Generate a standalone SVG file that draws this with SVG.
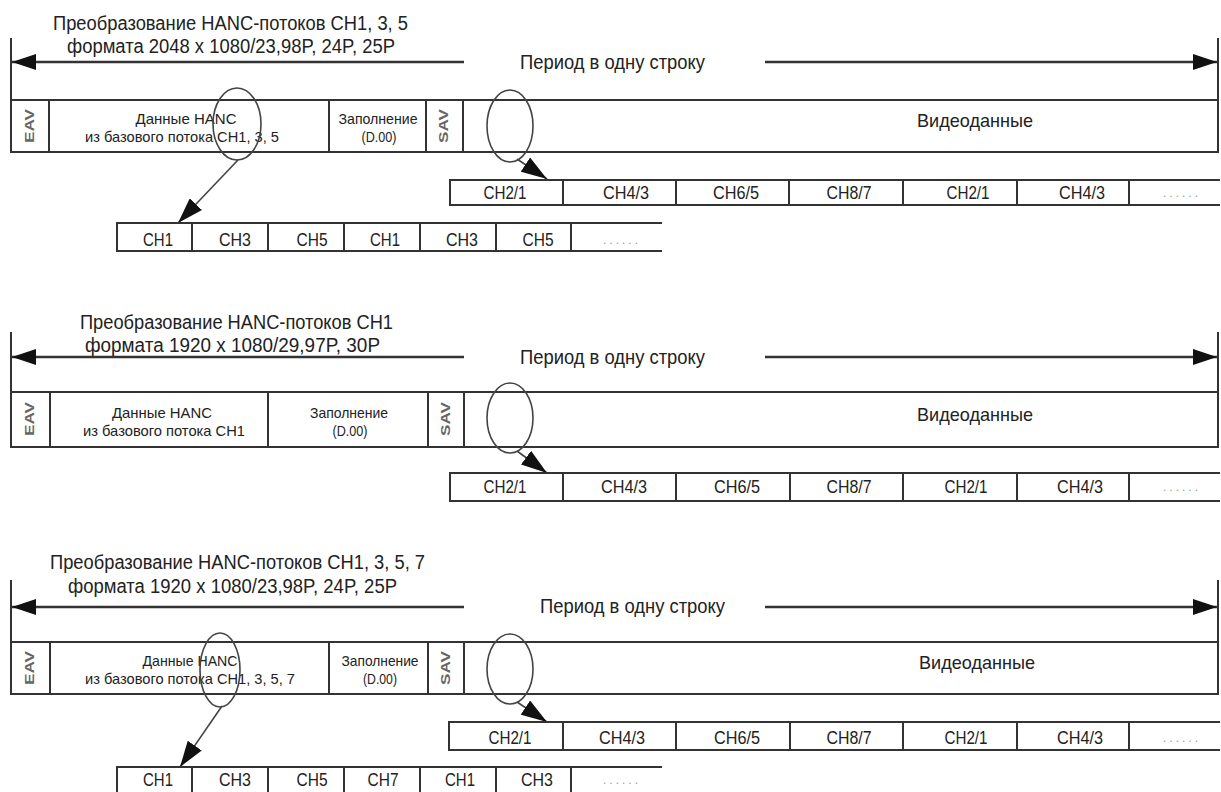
<svg xmlns="http://www.w3.org/2000/svg" width="1221" height="792" viewBox="0 0 1221 792">
<style>
text{font-family:"Liberation Sans",Arial,sans-serif;fill:#222}
.ttl{font-size:20px}
.per{font-size:20px}
.cell{font-size:15px;text-anchor:middle}
.vid{font-size:19px;text-anchor:middle}
.ch{font-size:19px;text-anchor:middle}
.rot{font-size:13px;font-weight:bold;fill:#666;text-anchor:middle}
.dots{font-size:12px;fill:#999;letter-spacing:3px}
.fr{fill:none;stroke:#333;stroke-width:2}
.ln{stroke:#333;stroke-width:2;fill:none}
.pa{stroke:#333;stroke-width:2.5;fill:none}
.el{fill:none;stroke:#444;stroke-width:1.6}
.cn{stroke:#444;stroke-width:1.6;fill:none}
</style>
<defs>
<marker id="pah" viewBox="0 0 24 16" refX="24" refY="8" markerUnits="userSpaceOnUse" markerWidth="24" markerHeight="16" orient="auto"><path d="M0,0L24,8L0,16z" fill="#111"/></marker>
<marker id="cah" viewBox="0 0 26 17" refX="26" refY="8.5" markerUnits="userSpaceOnUse" markerWidth="26" markerHeight="17" orient="auto"><path d="M0,0L26,8.5L0,17z" fill="#111"/></marker>
</defs>

<!-- ===== Section 1 ===== -->
<g id="sec1-title">
<text class="ttl" x="53" y="30" textLength="355" lengthAdjust="spacingAndGlyphs">Преобразование HANC-потоков CH1, 3, 5</text>
<text class="ttl" x="67" y="53" textLength="328" lengthAdjust="spacingAndGlyphs">формата 2048 x 1080/23,98P, 24P, 25P</text>
</g>
<g id="sec1-period">
<line class="ln" x1="11" y1="38" x2="11" y2="100"/>
<line class="ln" x1="1218" y1="38" x2="1218" y2="152"/>
<line class="pa" x1="464" y1="62" x2="12" y2="62" marker-end="url(#pah)"/>
<line class="pa" x1="765" y1="62" x2="1217" y2="62" marker-end="url(#pah)"/>
<text class="per" x="520" y="69" textLength="185" lengthAdjust="spacingAndGlyphs">Период в одну строку</text>
</g>
<g id="sec1-frame">
<rect class="fr" x="11" y="100" width="1207" height="52"/>
<line class="ln" x1="49" y1="100" x2="49" y2="152"/>
<line class="ln" x1="329" y1="100" x2="329" y2="152"/>
<line class="ln" x1="426" y1="100" x2="426" y2="152"/>
<line class="ln" x1="463" y1="100" x2="463" y2="152"/>
</g>
<g id="sec1-eav"><text class="rot" transform="translate(34,126) rotate(-90)" textLength="34" lengthAdjust="spacingAndGlyphs">EAV</text></g>
<g id="sec1-hanc">
<text class="cell" x="186" y="124" textLength="101" lengthAdjust="spacingAndGlyphs">Данные HANC</text>
<text class="cell" x="182" y="142" textLength="194" lengthAdjust="spacingAndGlyphs">из базового потока CH1, 3, 5</text>
</g>
<g id="sec1-fill">
<text class="cell" x="378" y="124" textLength="79" lengthAdjust="spacingAndGlyphs">Заполнение</text>
<text class="cell" x="379" y="142" textLength="35" lengthAdjust="spacingAndGlyphs">(D.00)</text>
</g>
<g id="sec1-sav"><text class="rot" transform="translate(448,126) rotate(-90)" textLength="34" lengthAdjust="spacingAndGlyphs">SAV</text></g>
<g id="sec1-video"><text class="vid" x="975" y="127" textLength="116" lengthAdjust="spacingAndGlyphs">Видеоданные</text></g>
<g id="sec1-ell1"><ellipse class="el" cx="237" cy="124" rx="24" ry="36"/></g>
<g id="sec1-ell2"><ellipse class="el" cx="510" cy="126" rx="23" ry="36"/></g>
<g id="sec1-row2">
<path class="ln" d="M1220,180H450V205H1220M563,180V205M676,180V205M789,180V205M903,180V205M1017,180V205M1129,180V205"/>
<text class="ch" x="505" y="199" textLength="43" lengthAdjust="spacingAndGlyphs">CH2/1</text>
<text class="ch" x="626" y="199" textLength="46" lengthAdjust="spacingAndGlyphs">CH4/3</text>
<text class="ch" x="736" y="199" textLength="46" lengthAdjust="spacingAndGlyphs">CH6/5</text>
<text class="ch" x="849" y="199" textLength="45" lengthAdjust="spacingAndGlyphs">CH8/7</text>
<text class="ch" x="968" y="199" textLength="43" lengthAdjust="spacingAndGlyphs">CH2/1</text>
<text class="ch" x="1082" y="199" textLength="46" lengthAdjust="spacingAndGlyphs">CH4/3</text>
<text class="dots" x="1163" y="197">......</text>
</g>
<g id="sec1-row1">
<path class="ln" d="M662,223H117V251H662M192,223V251M268,223V251M344,223V251M420,223V251M496,223V251M571,223V251"/>
<text class="ch" x="158" y="246" textLength="30" lengthAdjust="spacingAndGlyphs">CH1</text>
<text class="ch" x="235" y="246" textLength="32" lengthAdjust="spacingAndGlyphs">CH3</text>
<text class="ch" x="312" y="246" textLength="31" lengthAdjust="spacingAndGlyphs">CH5</text>
<text class="ch" x="385" y="246" textLength="30" lengthAdjust="spacingAndGlyphs">CH1</text>
<text class="ch" x="462" y="246" textLength="32" lengthAdjust="spacingAndGlyphs">CH3</text>
<text class="ch" x="538" y="246" textLength="31" lengthAdjust="spacingAndGlyphs">CH5</text>
<text class="dots" x="603" y="244">......</text>
</g>

<!-- ===== Section 2 ===== -->
<g id="sec2-title">
<text class="ttl" x="80" y="329" textLength="313" lengthAdjust="spacingAndGlyphs">Преобразование HANC-потоков CH1</text>
<text class="ttl" x="85" y="352" textLength="295" lengthAdjust="spacingAndGlyphs">формата 1920 x 1080/29,97P, 30P</text>
</g>
<g id="sec2-period">
<line class="ln" x1="11" y1="332" x2="11" y2="392"/>
<line class="ln" x1="1218" y1="332" x2="1218" y2="447"/>
<line class="pa" x1="464" y1="357" x2="12" y2="357" marker-end="url(#pah)"/>
<line class="pa" x1="765" y1="357" x2="1217" y2="357" marker-end="url(#pah)"/>
<text class="per" x="520" y="364" textLength="185" lengthAdjust="spacingAndGlyphs">Период в одну строку</text>
</g>
<g id="sec2-frame">
<rect class="fr" x="11" y="392" width="1207" height="55"/>
<line class="ln" x1="50" y1="392" x2="50" y2="447"/>
<line class="ln" x1="268" y1="392" x2="268" y2="447"/>
<line class="ln" x1="428" y1="392" x2="428" y2="447"/>
<line class="ln" x1="464" y1="392" x2="464" y2="447"/>
</g>
<g id="sec2-eav"><text class="rot" transform="translate(34,419) rotate(-90)" textLength="34" lengthAdjust="spacingAndGlyphs">EAV</text></g>
<g id="sec2-hanc">
<text class="cell" x="162" y="418" textLength="100" lengthAdjust="spacingAndGlyphs">Данные HANC</text>
<text class="cell" x="164" y="436" textLength="162" lengthAdjust="spacingAndGlyphs">из базового потока CH1</text>
</g>
<g id="sec2-fill">
<text class="cell" x="349" y="418" textLength="78" lengthAdjust="spacingAndGlyphs">Заполнение</text>
<text class="cell" x="350" y="436" textLength="35" lengthAdjust="spacingAndGlyphs">(D.00)</text>
</g>
<g id="sec2-sav"><text class="rot" transform="translate(450,419) rotate(-90)" textLength="34" lengthAdjust="spacingAndGlyphs">SAV</text></g>
<g id="sec2-video"><text class="vid" x="975" y="421" textLength="116" lengthAdjust="spacingAndGlyphs">Видеоданные</text></g>
<g id="sec2-ell2"><ellipse class="el" cx="510" cy="418" rx="23" ry="35"/></g>
<g id="sec2-row2">
<path class="ln" d="M1220,473H450V501H1220M563,473V501M676,473V501M790,473V501M903,473V501M1017,473V501M1129,473V501"/>
<text class="ch" x="505" y="493" textLength="43" lengthAdjust="spacingAndGlyphs">CH2/1</text>
<text class="ch" x="624" y="493" textLength="46" lengthAdjust="spacingAndGlyphs">CH4/3</text>
<text class="ch" x="737" y="493" textLength="46" lengthAdjust="spacingAndGlyphs">CH6/5</text>
<text class="ch" x="849" y="493" textLength="45" lengthAdjust="spacingAndGlyphs">CH8/7</text>
<text class="ch" x="966" y="493" textLength="43" lengthAdjust="spacingAndGlyphs">CH2/1</text>
<text class="ch" x="1080" y="493" textLength="46" lengthAdjust="spacingAndGlyphs">CH4/3</text>
<text class="dots" x="1163" y="491">......</text>
</g>

<!-- ===== Section 3 ===== -->
<g id="sec3-title">
<text class="ttl" x="50" y="569" textLength="375" lengthAdjust="spacingAndGlyphs">Преобразование HANC-потоков CH1, 3, 5, 7</text>
<text class="ttl" x="68" y="593" textLength="329" lengthAdjust="spacingAndGlyphs">формата 1920 x 1080/23,98P, 24P, 25P</text>
</g>
<g id="sec3-period">
<line class="ln" x1="11" y1="580" x2="11" y2="642"/>
<line class="ln" x1="1218" y1="580" x2="1218" y2="694"/>
<line class="pa" x1="464" y1="607" x2="12" y2="607" marker-end="url(#pah)"/>
<line class="pa" x1="765" y1="607" x2="1217" y2="607" marker-end="url(#pah)"/>
<text class="per" x="540" y="613" textLength="185" lengthAdjust="spacingAndGlyphs">Период в одну строку</text>
</g>
<g id="sec3-frame">
<rect class="fr" x="11" y="642" width="1207" height="52"/>
<line class="ln" x1="50" y1="642" x2="50" y2="694"/>
<line class="ln" x1="329" y1="642" x2="329" y2="694"/>
<line class="ln" x1="428" y1="642" x2="428" y2="694"/>
<line class="ln" x1="464" y1="642" x2="464" y2="694"/>
</g>
<g id="sec3-eav"><text class="rot" transform="translate(34,668) rotate(-90)" textLength="34" lengthAdjust="spacingAndGlyphs">EAV</text></g>
<g id="sec3-hanc">
<text class="cell" x="190" y="666" textLength="95" lengthAdjust="spacingAndGlyphs">Данные HANC</text>
<text class="cell" x="190" y="684" textLength="210" lengthAdjust="spacingAndGlyphs">из базового потока CH1, 3, 5, 7</text>
</g>
<g id="sec3-fill">
<text class="cell" x="380" y="666" textLength="77" lengthAdjust="spacingAndGlyphs">Заполнение</text>
<text class="cell" x="380" y="684" textLength="34" lengthAdjust="spacingAndGlyphs">(D.00)</text>
</g>
<g id="sec3-sav"><text class="rot" transform="translate(450,668) rotate(-90)" textLength="34" lengthAdjust="spacingAndGlyphs">SAV</text></g>
<g id="sec3-video"><text class="vid" x="977" y="669" textLength="116" lengthAdjust="spacingAndGlyphs">Видеоданные</text></g>
<g id="sec3-ell1"><ellipse class="el" cx="220" cy="670" rx="20" ry="37"/></g>
<g id="sec3-ell2"><ellipse class="el" cx="510" cy="669" rx="23" ry="35"/></g>
<g id="sec3-row2">
<path class="ln" d="M1220,722H449V750H1220M563,722V750M676,722V750M790,722V750M903,722V750M1017,722V750M1129,722V750"/>
<text class="ch" x="510" y="744" textLength="43" lengthAdjust="spacingAndGlyphs">CH2/1</text>
<text class="ch" x="622" y="744" textLength="46" lengthAdjust="spacingAndGlyphs">CH4/3</text>
<text class="ch" x="737" y="744" textLength="46" lengthAdjust="spacingAndGlyphs">CH6/5</text>
<text class="ch" x="849" y="744" textLength="45" lengthAdjust="spacingAndGlyphs">CH8/7</text>
<text class="ch" x="966" y="744" textLength="43" lengthAdjust="spacingAndGlyphs">CH2/1</text>
<text class="ch" x="1080" y="744" textLength="46" lengthAdjust="spacingAndGlyphs">CH4/3</text>
<text class="dots" x="1163" y="742">......</text>
</g>
<g id="sec3-row1">
<path class="ln" d="M662,767H117V794H662M192,767V794M268,767V794M344,767V794M420,767V794M496,767V794M571,767V794"/>
<text class="ch" x="158" y="786" textLength="30" lengthAdjust="spacingAndGlyphs">CH1</text>
<text class="ch" x="235" y="786" textLength="32" lengthAdjust="spacingAndGlyphs">CH3</text>
<text class="ch" x="312" y="786" textLength="31" lengthAdjust="spacingAndGlyphs">CH5</text>
<text class="ch" x="383" y="786" textLength="31" lengthAdjust="spacingAndGlyphs">CH7</text>
<text class="ch" x="460" y="786" textLength="30" lengthAdjust="spacingAndGlyphs">CH1</text>
<text class="ch" x="537" y="786" textLength="32" lengthAdjust="spacingAndGlyphs">CH3</text>
<text class="dots" x="603" y="784">......</text>
</g>

<!-- ===== Connectors ===== -->
<g id="connectors">
<line class="cn" x1="238" y1="160" x2="178" y2="223" marker-end="url(#cah)"/>
<line class="cn" x1="517" y1="159" x2="547" y2="179" marker-end="url(#cah)"/>
<line class="cn" x1="517" y1="451" x2="547" y2="473" marker-end="url(#cah)"/>
<line class="cn" x1="222" y1="706" x2="180" y2="767" marker-end="url(#cah)"/>
<line class="cn" x1="517" y1="702" x2="547" y2="722" marker-end="url(#cah)"/>
</g>
</svg>
